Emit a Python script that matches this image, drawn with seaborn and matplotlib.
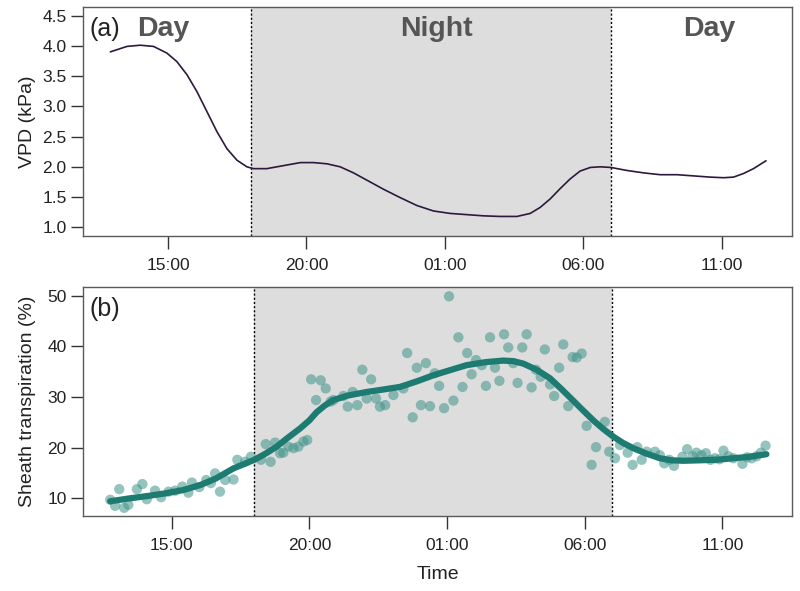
import numpy as np
import pandas as pd
import matplotlib
matplotlib.use("Agg")
import matplotlib.pyplot as plt
import seaborn as sns

# ---------------- data ----------------
# time in hours since midnight of day 1 (25 = 01:00 next day)
vpd_time = [12.92, 13.52, 14.00, 14.48, 14.96, 15.32, 15.69, 16.05, 16.41, 16.77,
            17.13, 17.49, 17.85, 18.09, 18.57, 19.17, 19.78, 20.26, 20.74, 21.22,
            21.70, 22.18, 22.78, 23.39, 23.99, 24.59, 25.19, 25.79, 26.39, 27.00,
            27.60, 28.08, 28.44, 28.80, 29.16, 29.52, 29.88, 30.25, 30.61, 30.99,
            31.57, 32.17, 32.77, 33.38, 33.98, 34.58, 35.06, 35.42, 35.78, 36.14,
            36.59]
vpd_value = [3.90, 3.99, 4.01, 3.99, 3.88, 3.74, 3.52, 3.24, 2.91, 2.58,
             2.30, 2.11, 2.00, 1.97, 1.97, 2.02, 2.07, 2.07, 2.05, 2.00,
             1.90, 1.78, 1.63, 1.49, 1.36, 1.27, 1.23, 1.21, 1.19, 1.18,
             1.18, 1.23, 1.33, 1.47, 1.64, 1.80, 1.93, 1.99, 2.00, 1.99,
             1.94, 1.90, 1.87, 1.87, 1.85, 1.83, 1.82, 1.83, 1.89, 1.97,
             2.10]

pt_time = [12.76, 12.94, 13.09, 13.27, 13.42, 13.73, 13.93, 14.09, 14.39, 14.61, 14.88,
           15.12, 15.38, 15.60, 15.73, 16.00, 16.25, 16.42, 16.57, 16.75, 16.94, 17.24,
           17.38, 17.66, 17.87, 18.24, 18.41, 18.59, 18.75, 18.93, 19.05, 19.23, 19.42,
           19.60, 19.78, 19.92, 20.06, 20.24, 20.41, 20.59, 20.77, 20.87, 21.23, 21.39,
           21.57, 21.74, 21.92, 22.08, 22.24, 22.42, 22.56, 22.75, 23.05, 23.41, 23.55,
           23.75, 23.90, 24.05, 24.23, 24.38, 24.55, 24.71, 24.89, 25.07, 25.23, 25.41,
           25.56, 25.73, 25.89, 26.05, 26.26, 26.41, 26.56, 26.74, 26.90, 27.07, 27.22,
           27.40, 27.56, 27.73, 27.89, 28.07, 28.23, 28.40, 28.55, 28.74, 28.89, 29.07,
           29.22, 29.40, 29.56, 29.71, 29.89, 30.07, 30.25, 30.41, 30.73, 30.89, 31.10,
           31.28, 31.56, 31.74, 31.91, 32.07, 32.25, 32.55, 32.73, 32.89, 33.07, 33.24,
           33.55, 33.72, 33.92, 34.06, 34.24, 34.40, 34.57, 34.73, 34.89, 35.04, 35.22,
           35.40, 35.73, 35.90, 36.06, 36.24, 36.40, 36.57]
pt_value = [9.7, 8.5, 11.8, 8.1, 8.7, 11.8, 12.8, 9.8, 11.5, 10.2, 11.3,
            11.5, 12.3, 11.1, 13.1, 12.2, 13.6, 13.0, 14.9, 11.3, 13.6, 13.7,
            17.6, 17.2, 18.2, 17.6, 20.7, 17.2, 21.0, 18.9, 19.0, 20.2, 19.9,
            20.2, 21.2, 21.5, 33.5, 29.4, 33.3, 31.7, 29.1, 29.4, 30.2, 28.1,
            31.0, 28.4, 35.4, 29.7, 33.5, 29.7, 28.1, 28.4, 30.4, 31.7, 38.7,
            26.0, 35.8, 28.4, 36.7, 28.2, 34.7, 32.2, 27.8, 49.9, 29.3, 41.8,
            32.0, 38.7, 34.5, 37.3, 36.3, 32.2, 41.8, 35.8, 33.2, 42.4, 39.8,
            36.7, 32.8, 39.8, 42.4, 31.9, 35.4, 34.0, 39.4, 32.5, 30.2, 35.8,
            40.4, 28.2, 37.9, 37.8, 38.6, 24.3, 16.6, 20.1, 25.1, 19.2, 17.9,
            20.5, 19.0, 16.6, 20.1, 17.6, 19.2, 19.2, 18.5, 16.9, 17.6, 16.4,
            18.2, 19.7, 18.3, 19.0, 18.5, 18.9, 17.6, 17.9, 17.7, 19.4, 18.3,
            17.9, 16.8, 18.1, 17.9, 18.3, 19.0, 20.4]

fit_time = [12.76, 13.5, 14.2, 14.8, 15.4, 16.03, 16.6, 17.24, 17.6, 18.0, 18.4, 18.81,
            19.2, 19.66, 20.0, 20.26, 20.55, 20.87, 21.4, 22.08, 22.7, 23.29, 23.9,
            24.5, 25.1, 25.71, 26.4, 27.04, 27.4, 27.77, 28.25, 28.74, 29.15, 29.58,
            29.95, 30.31, 30.67, 31.03, 31.4, 31.76, 32.25, 32.73, 33.15, 33.58, 34.2,
            34.79, 35.4, 35.99, 36.6]
fit_value = [9.4, 10.0, 10.5, 11.0, 11.6, 12.6, 13.9, 15.9, 16.7, 17.6, 18.8, 20.2,
             21.9, 23.8, 25.4, 27.0, 28.3, 29.4, 30.3, 31.0, 31.5, 32.0, 33.1,
             34.3, 35.3, 36.3, 36.9, 37.2, 37.1, 36.6, 35.4, 33.7, 31.6, 29.3,
             27.3, 25.4, 23.7, 22.2, 20.9, 19.9, 18.8, 17.9, 17.5, 17.4, 17.5,
             17.6, 17.9, 18.2, 18.7]

tick_pos = [15, 20, 25, 30, 35]
tick_labels = ["15:00", "20:00", "01:00", "06:00", "11:00"]
night_start, night_end = 18.0, 31.0

# ---------------- style ----------------
sns.set_theme(style="white")
plt.rcParams['font.family'] = ['Liberation Sans', 'DejaVu Sans']

vpd_df = pd.DataFrame({"time": vpd_time, "vpd": vpd_value})
pt_df = pd.DataFrame({"time": pt_time, "st": pt_value})
fit_df = pd.DataFrame({"time": fit_time, "st": fit_value})

fig = plt.figure(figsize=(8.0, 5.91), dpi=100)
ax1 = fig.add_axes([0.104, 0.601, 0.886, 0.387])
ax2 = fig.add_axes([0.104, 0.127, 0.886, 0.387])

shade = "#dddddd"
frame_col = "#5a5a5a"
txt = "#222222"
for ax in (ax1, ax2):
    ax.axvspan(night_start, night_end, color=shade, lw=0, zorder=0)
    ax.axvline(night_start, color="black", ls=(0, (1.5, 1.5)), lw=1.0, zorder=1)
    ax.axvline(night_end, color="black", ls=(0, (1.5, 1.5)), lw=1.0, zorder=1)
    for s in ax.spines.values():
        s.set_visible(True)
        s.set_color(frame_col)
        s.set_linewidth(1.0)
    ax.set_xticks(tick_pos)
    ax.set_xticklabels(tick_labels)
    ax.tick_params(axis="x", direction="out", length=9, width=1.0, color="#333333",
                   pad=7, labelsize=12.5, labelcolor=txt, bottom=True)
    ax.tick_params(axis="y", direction="out", length=9, width=1.0, color="#333333",
                   pad=3, labelsize=12.5, labelcolor=txt, left=True)
    ax.grid(False)

# top panel
sns.lineplot(data=vpd_df, x="time", y="vpd", ax=ax1, color="#2b1a3d", lw=1.2,
             zorder=3)
ax1.set_xlim(11.94, 37.53)
ax1.set_ylim(0.86, 4.64)
ax1.set_yticks([1.0, 1.5, 2.0, 2.5, 3.0, 3.5, 4.0, 4.5])
ax1.set_yticklabels(["1.0", "1.5", "2.0", "2.5", "3.0", "3.5", "4.0", "4.5"])
ax1.set_xlabel("")
ax1.set_ylabel("VPD (kPa)", fontsize=14, color=txt)
ax1.yaxis.set_label_coords(-0.066, 0.5)
ax1.text(0.009, 0.905, "(a)", transform=ax1.transAxes, fontsize=18,
         color=txt, va="center", ha="left")
grey = "#555555"
ax1.text(0.113, 0.905, "Day", transform=ax1.transAxes, fontsize=20.5,
         fontweight="bold", color=grey, va="center", ha="center")
ax1.text(0.499, 0.905, "Night", transform=ax1.transAxes, fontsize=20.5,
         fontweight="bold", color=grey, va="center", ha="center")
ax1.text(0.883, 0.905, "Day", transform=ax1.transAxes, fontsize=20.5,
         fontweight="bold", color=grey, va="center", ha="center")

# bottom panel
sns.scatterplot(data=pt_df, x="time", y="st", ax=ax2, color="#3f948a", alpha=0.55,
                s=55, edgecolor="none", zorder=3)
sns.lineplot(data=fit_df, x="time", y="st", ax=ax2, color="#1d7b72", lw=4.5,
             zorder=4)
ax2.set_xlim(11.78, 37.53)
ax2.set_ylim(6.5, 51.7)
ax2.set_yticks([10, 20, 30, 40, 50])
ax2.set_xlabel("Time", fontsize=14, color=txt, labelpad=9)
ax2.set_ylabel("Sheath transpiration (%)", fontsize=14, color=txt)
ax2.yaxis.set_label_coords(-0.066, 0.5)
ax2.text(0.009, 0.905, "(b)", transform=ax2.transAxes, fontsize=18,
         color=txt, va="center", ha="left")

fig.savefig("out.png", dpi=100)
